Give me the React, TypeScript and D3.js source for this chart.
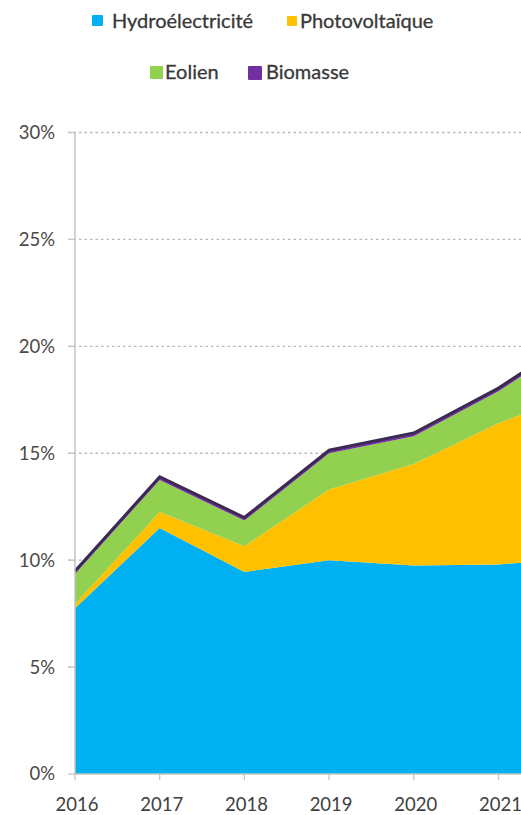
import React from "react";
import * as d3 from "d3";

const years = [2016, 2017, 2018, 2019, 2020, 2021, 2022];
const hydro = [7.75, 11.5, 9.45, 10.0, 9.75, 9.8, 10.1];
const photovoltaique = [0.2, 0.75, 1.2, 3.3, 4.75, 6.6, 7.8];
const eolien = [1.4, 1.5, 1.2, 1.7, 1.3, 1.5, 2.6];
const biomasse = [0.15, 0.15, 0.15, 0.15, 0.15, 0.15, 0.15];
const yTicks = [0, 5, 10, 15, 20, 25, 30];

const seriesNames = ["Hydroélectricité", "Photovoltaïque", "Eolien", "Biomasse"];
const seriesColors = ["#00b0f0", "#ffc000", "#92d050", "#7030a0"];

const W = 521;
const H = 815;
const FONT = "Lato, 'Open Sans', sans-serif";

export default function App() {
  const x = d3.scaleLinear().domain([2016, 2022]).range([75, 75 + 6 * 84.7]);
  const y = d3.scaleLinear().domain([0, 30]).range([774, 132.5]);

  const rows = years.map((yr, i) => ({
    year: yr,
    h: hydro[i],
    p: photovoltaique[i],
    e: eolien[i],
    b: biomasse[i],
  }));
  const stack = d3.stack<any>().keys(["h", "p", "e", "b"]);
  const layers = stack(rows);
  const area = d3
    .area<any>()
    .x((d) => x(d.data.year))
    .y0((d) => y(d[0]))
    .y1((d) => y(d[1]));
  const topLine = d3
    .line<any>()
    .x((d) => x(d.data.year))
    .y((d) => y(d[1]));

  const legend = [
    { i: 0, sx: 92, sy: 15, sw: 11, tx: 112, ty: 28 },
    { i: 1, sx: 287, sy: 16, sw: 10, tx: 300, ty: 28 },
    { i: 2, sx: 150, sy: 66, sw: 13, tx: 165, ty: 79 },
    { i: 3, sx: 248, sy: 66, sw: 14, tx: 266, ty: 79 },
  ];

  return (
    <svg
      width={W}
      height={H}
      style={{ position: "absolute", left: 0, top: 0, background: "#fff" }}
    >
      <rect x={0} y={0} width={W} height={H} fill="#fff" />
      {/* gridlines */}
      {yTicks.filter((t) => t > 0).map((t) => (
        <line
          key={"g" + t}
          x1={68}
          x2={W}
          y1={y(t)}
          y2={y(t)}
          stroke="#b8b8b8"
          strokeWidth={1.3}
          strokeDasharray="2.5 3"
        />
      ))}
      {/* areas */}
      {layers.map((layer, k) => (
        <path key={"a" + k} d={area(layer) || ""} fill={seriesColors[k]} />
      ))}
      <path
        d={topLine(layers[3]) || ""}
        fill="none"
        stroke="#3a2a50"
        strokeWidth={2.8}
        strokeLinejoin="miter"
      />
      {/* y axis */}
      <line x1={75} x2={75} y1={y(30)} y2={y(0)} stroke="#c4c4c4" strokeWidth={1.5} />
      {yTicks.map((t) => (
        <g key={"y" + t}>
          <line x1={68} x2={75} y1={y(t)} y2={y(t)} stroke="#c4c4c4" strokeWidth={1.3} />
          <text
            x={55}
            y={y(t)}
            dy="0.35em"
            textAnchor="end"
            fontFamily={FONT}
            fontSize={18.5}
            fill="#4a4a4a"
          >
            {t + "%"}
          </text>
        </g>
      ))}
      {/* x axis */}
      <line x1={75} x2={W} y1={y(0)} y2={y(0)} stroke="#c4c4c4" strokeWidth={1.5} />
      {years.map((yr) => (
        <g key={"x" + yr}>
          <line x1={x(yr)} x2={x(yr)} y1={y(0)} y2={y(0) + 6} stroke="#c4c4c4" strokeWidth={1.3} />
          <text
            x={x(yr) + 2}
            y={805}
            dy="0.35em"
            textAnchor="middle"
            fontFamily={FONT}
            fontSize={18.5}
            fill="#404040"
          >
            {yr}
          </text>
        </g>
      ))}
      {/* legend */}
      {legend.map((l) => (
        <g key={"l" + l.i}>
          <rect x={l.sx} y={l.sy} width={l.sw} height={l.sw} fill={seriesColors[l.i]} rx={1} />
          <text
            x={l.tx}
            y={l.ty}
            fontFamily={FONT}
            fontSize={20}
            fill="#383838"
            stroke="#383838"
            strokeWidth={0.3}
          >
            {seriesNames[l.i]}
          </text>
        </g>
      ))}
    </svg>
  );
}
